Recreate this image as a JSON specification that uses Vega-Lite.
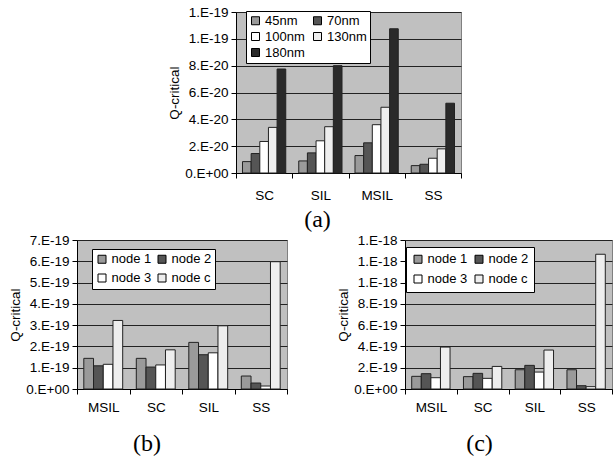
{
  "$schema": "https://vega.github.io/schema/vega-lite/v6.json",
  "padding": {"left": 8, "top": 4, "right": 0, "bottom": 0},
  "background": "white",
  "config": {
    "view": {"stroke": null},
    "font": "Liberation Sans",
    "axis": {
      "labelFont": "Liberation Sans", "labelFontSize": 13.5, "labelColor": "black",
      "titleFont": "Liberation Sans", "titleFontSize": 13.5, "titleFontWeight": "normal", "titleColor": "black",
      "domainColor": "black", "tickColor": "black", "tickSize": 5
    },
    "legend": {
      "labelFont": "Liberation Sans", "labelFontSize": 13, "labelColor": "black",
      "symbolType": "square", "symbolSize": 64, "symbolStrokeColor": "black", "symbolStrokeWidth": 1,
      "fillColor": "white", "strokeColor": "black", "columns": 2, "orient": "none", "labelOffset": 3, "gridAlign": "all"
    },
    "title": {"font": "Liberation Serif", "fontSize": 24, "fontWeight": "normal", "color": "black", "orient": "bottom"}
  },
  "datasets": {
    "a": [
      {"design": "SC", "tech": "45nm", "q": 0.85e-20},
      {"design": "SC", "tech": "70nm", "q": 1.45e-20},
      {"design": "SC", "tech": "100nm", "q": 2.35e-20},
      {"design": "SC", "tech": "130nm", "q": 3.4e-20},
      {"design": "SC", "tech": "180nm", "q": 7.75e-20},
      {"design": "SIL", "tech": "45nm", "q": 0.9e-20},
      {"design": "SIL", "tech": "70nm", "q": 1.5e-20},
      {"design": "SIL", "tech": "100nm", "q": 2.4e-20},
      {"design": "SIL", "tech": "130nm", "q": 3.45e-20},
      {"design": "SIL", "tech": "180nm", "q": 8.0e-20},
      {"design": "MSIL", "tech": "45nm", "q": 1.3e-20},
      {"design": "MSIL", "tech": "70nm", "q": 2.25e-20},
      {"design": "MSIL", "tech": "100nm", "q": 3.6e-20},
      {"design": "MSIL", "tech": "130nm", "q": 4.9e-20},
      {"design": "MSIL", "tech": "180nm", "q": 10.75e-20},
      {"design": "SS", "tech": "45nm", "q": 0.55e-20},
      {"design": "SS", "tech": "70nm", "q": 0.65e-20},
      {"design": "SS", "tech": "100nm", "q": 1.1e-20},
      {"design": "SS", "tech": "130nm", "q": 1.8e-20},
      {"design": "SS", "tech": "180nm", "q": 5.2e-20}
    ],
    "b": [
      {"design": "MSIL", "node": "node 1", "q": 1.44e-19},
      {"design": "MSIL", "node": "node 2", "q": 1.09e-19},
      {"design": "MSIL", "node": "node 3", "q": 1.16e-19},
      {"design": "MSIL", "node": "node c", "q": 3.22e-19},
      {"design": "SC", "node": "node 1", "q": 1.44e-19},
      {"design": "SC", "node": "node 2", "q": 1.03e-19},
      {"design": "SC", "node": "node 3", "q": 1.13e-19},
      {"design": "SC", "node": "node c", "q": 1.84e-19},
      {"design": "SIL", "node": "node 1", "q": 2.19e-19},
      {"design": "SIL", "node": "node 2", "q": 1.61e-19},
      {"design": "SIL", "node": "node 3", "q": 1.70e-19},
      {"design": "SIL", "node": "node c", "q": 2.97e-19},
      {"design": "SS", "node": "node 1", "q": 0.61e-19},
      {"design": "SS", "node": "node 2", "q": 0.28e-19},
      {"design": "SS", "node": "node 3", "q": 0.14e-19},
      {"design": "SS", "node": "node c", "q": 5.98e-19}
    ],
    "c": [
      {"design": "MSIL", "node": "node 1", "q": 1.19e-19},
      {"design": "MSIL", "node": "node 2", "q": 1.44e-19},
      {"design": "MSIL", "node": "node 3", "q": 1.06e-19},
      {"design": "MSIL", "node": "node c", "q": 3.94e-19},
      {"design": "SC", "node": "node 1", "q": 1.16e-19},
      {"design": "SC", "node": "node 2", "q": 1.47e-19},
      {"design": "SC", "node": "node 3", "q": 1.00e-19},
      {"design": "SC", "node": "node c", "q": 2.12e-19},
      {"design": "SIL", "node": "node 1", "q": 1.81e-19},
      {"design": "SIL", "node": "node 2", "q": 2.22e-19},
      {"design": "SIL", "node": "node 3", "q": 1.59e-19},
      {"design": "SIL", "node": "node c", "q": 3.66e-19},
      {"design": "SS", "node": "node 1", "q": 1.81e-19},
      {"design": "SS", "node": "node 2", "q": 0.31e-19},
      {"design": "SS", "node": "node 3", "q": 0.22e-19},
      {"design": "SS", "node": "node c", "q": 12.66e-19}
    ]
  },
  "spacing": 0,
  "resolve": {
    "scale": {"x": "independent", "y": "independent", "xOffset": "independent", "fill": "independent"},
    "legend": {"fill": "independent"},
    "axis": {"x": "independent", "y": "independent"}
  },
  "vconcat": [
    {
      "spacing": 10,
      "resolve": {
        "scale": {"x": "independent", "y": "independent", "xOffset": "independent", "fill": "independent"},
        "legend": {"fill": "independent"}
      },
      "hconcat": [
        {"width": 80, "height": 10, "data": {"values": []}, "mark": "point", "view": {"stroke": null, "fill": "white"}},
        {
          "width": 225, "height": 161,
          "view": {"fill": "#c0c0c0", "stroke": "#808080"},
          "title": {"text": "(a)", "dx": -31, "offset": 6},
          "data": {"name": "a"},
          "mark": {"type": "bar", "stroke": "#222222", "strokeWidth": 1},
          "encoding": {
            "x": {"field": "design", "type": "nominal", "sort": ["SC", "SIL", "MSIL", "SS"],
                  "scale": {"paddingInner": 0, "paddingOuter": 0},
                  "axis": {"title": null, "labelAngle": 0, "tickBand": "extent", "labelPadding": 10, "grid": false}},
            "xOffset": {"field": "tech", "type": "nominal", "sort": ["45nm", "70nm", "100nm", "130nm", "180nm"],
                  "scale": {"paddingInner": 0, "paddingOuter": 0.75}},
            "y": {"field": "q", "type": "quantitative", "scale": {"domain": [0, 1.2e-19], "nice": false},
                  "axis": {"title": "Q-critical", "values": [0, 2e-20, 4e-20, 6e-20, 8e-20, 1e-19, 1.2e-19],
                           "labelExpr": "datum.value == 0 ? '0.E+00' : replace(format(datum.value, '.0e'), 'e', '.E')",
                           "grid": true, "gridColor": "#222222", "gridOpacity": 1, "labelPadding": 3, "titlePadding": 3}},
            "fill": {"field": "tech", "type": "nominal",
                     "scale": {"domain": ["45nm", "70nm", "100nm", "130nm", "180nm"], "range": ["#9a9a9a", "#555555", "#ffffff", "#eeeeee", "#2a2a2a"]},
                     "legend": {"title": null, "values": ["45nm", "100nm", "180nm", "70nm", "130nm"], "legendX": 10, "legendY": -1, "padding": 3, "rowPadding": 2, "columnPadding": 6}}
          }
        }
      ]
    },
    {
      "spacing": 48,
      "resolve": {
        "scale": {"x": "independent", "y": "independent", "xOffset": "independent", "fill": "independent"},
        "legend": {"fill": "independent"}
      },
      "hconcat": [
        {
          "width": 210, "height": 149,
          "view": {"fill": "#c0c0c0", "stroke": "#808080"},
          "title": {"text": "(b)", "dx": -35, "offset": 18},
          "data": {"name": "b"},
          "mark": {"type": "bar", "stroke": "#222222", "strokeWidth": 1},
          "encoding": {
            "x": {"field": "design", "type": "nominal", "sort": ["MSIL", "SC", "SIL", "SS"],
                  "scale": {"paddingInner": 0, "paddingOuter": 0},
                  "axis": {"title": null, "labelAngle": 0, "tickBand": "extent", "labelPadding": 6, "grid": false}},
            "xOffset": {"field": "node", "type": "nominal", "sort": ["node 1", "node 2", "node 3", "node c"],
                  "scale": {"paddingInner": 0, "paddingOuter": 0.7}},
            "y": {"field": "q", "type": "quantitative", "scale": {"domain": [0, 7e-19], "nice": false},
                  "axis": {"title": "Q-critical", "values": [0, 1e-19, 2e-19, 3e-19, 4e-19, 5e-19, 6e-19, 7e-19],
                           "labelExpr": "datum.value == 0 ? '0.E+00' : replace(format(datum.value, '.0e'), 'e', '.E')",
                           "grid": true, "gridColor": "#222222", "gridOpacity": 1, "labelPadding": 3, "titlePadding": 3}},
            "fill": {"field": "node", "type": "nominal",
                     "scale": {"domain": ["node 1", "node 2", "node 3", "node c"], "range": ["#9a9a9a", "#555555", "#ffffff", "#eeeeee"]},
                     "legend": {"title": null, "values": ["node 1", "node 3", "node 2", "node c"], "legendX": 15, "legendY": 9, "padding": 3.5, "rowPadding": 5, "columnPadding": 4}}
          }
        },
        {
          "width": 207, "height": 149,
          "view": {"fill": "#c0c0c0", "stroke": "#808080"},
          "title": {"text": "(c)", "dx": -29, "offset": 18},
          "data": {"name": "c"},
          "mark": {"type": "bar", "stroke": "#222222", "strokeWidth": 1},
          "encoding": {
            "x": {"field": "design", "type": "nominal", "sort": ["MSIL", "SC", "SIL", "SS"],
                  "scale": {"paddingInner": 0, "paddingOuter": 0},
                  "axis": {"title": null, "labelAngle": 0, "tickBand": "extent", "labelPadding": 6, "grid": false}},
            "xOffset": {"field": "node", "type": "nominal", "sort": ["node 1", "node 2", "node 3", "node c"],
                  "scale": {"paddingInner": 0, "paddingOuter": 0.7}},
            "y": {"field": "q", "type": "quantitative", "scale": {"domain": [0, 1.4e-18], "nice": false},
                  "axis": {"title": "Q-critical", "values": [0, 2e-19, 4e-19, 6e-19, 8e-19, 1e-18, 1.2e-18, 1.4e-18],
                           "labelExpr": "datum.value == 0 ? '0.E+00' : replace(format(datum.value, '.0e'), 'e', '.E')",
                           "grid": true, "gridColor": "#222222", "gridOpacity": 1, "labelPadding": 3, "titlePadding": 3}},
            "fill": {"field": "node", "type": "nominal",
                     "scale": {"domain": ["node 1", "node 2", "node 3", "node c"], "range": ["#9a9a9a", "#555555", "#ffffff", "#eeeeee"]},
                     "legend": {"title": null, "values": ["node 1", "node 3", "node 2", "node c"], "legendX": 1, "legendY": 7, "padding": 5.5, "rowPadding": 6, "columnPadding": 5}}
          }
        }
      ]
    }
  ]
}
